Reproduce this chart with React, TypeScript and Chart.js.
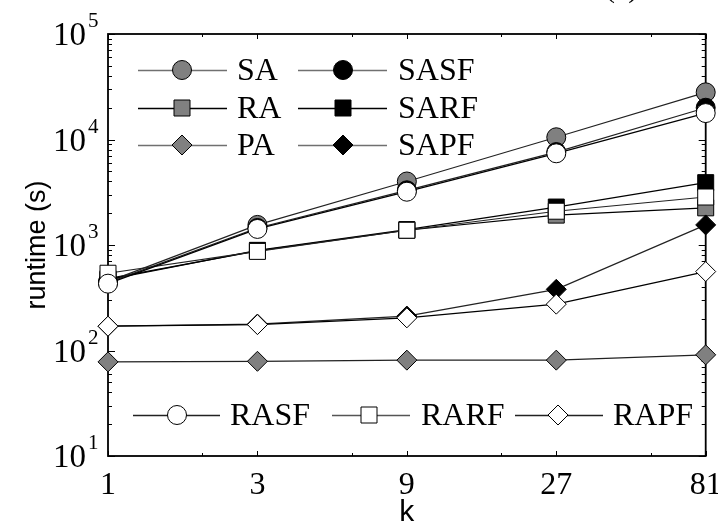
import React, { useEffect, useRef } from "react";
import { Chart, registerables } from "chart.js";
Chart.register(...registerables);

// ---- data ----
const K = [1, 3, 9, 27, 81];
const SA = [450, 1550, 4000, 10500, 28000];
const SASF = [440, 1450, 3300, 7600, 20000];
const RASF = [430, 1420, 3200, 7400, 17800];
const RA = [480, 880, 1380, 1920, 2250];
const SARF = [470, 890, 1400, 2290, 3900];
const RARF = [540, 870, 1380, 2090, 2850];
const PA = [78, 79, 81, 81, 91];
const SAPF = [170, 178, 212, 380, 1550];
const RAPF = [170, 176, 204, 275, 560];

const xTickValues = [1, 3, 9, 27, 81];
const xTickLabels = ["1", "3", "9", "27", "81"];
const xMinorValues = [2, 6, 18, 54];
const yExponents = [1, 2, 3, 4, 5];

const SERIF = "'Liberation Serif', 'Times New Roman', serif";
const SANS = "'Liberation Sans', Arial, sans-serif";

type Shape = "circle" | "rect" | "rectRot";

function drawMarker(ctx: CanvasRenderingContext2D, shape: Shape, x: number, y: number, fill: string) {
  ctx.save();
  ctx.fillStyle = fill;
  ctx.strokeStyle = "#000";
  ctx.lineWidth = 1;
  ctx.beginPath();
  if (shape === "circle") {
    ctx.arc(x, y, 9.5, 0, Math.PI * 2);
  } else if (shape === "rect") {
    ctx.rect(x - 8, y - 8, 16, 16);
  } else {
    const r = 10;
    ctx.moveTo(x, y - r);
    ctx.lineTo(x + r, y);
    ctx.lineTo(x, y + r);
    ctx.lineTo(x - r, y);
    ctx.closePath();
  }
  ctx.fill();
  ctx.stroke();
  ctx.restore();
}

export default function App() {
  const ref = useRef<HTMLCanvasElement>(null);

  useEffect(() => {
    document.body.style.margin = "0";
    const canvas = ref.current;
    if (!canvas) return;

    const radius: Record<Shape, number> = { circle: 9.5, rect: 11.3, rectRot: 10 };
    const mk = (label: string, vals: number[], shape: Shape, line: string, legendLine: string, fill: string, order: number) => ({
      label,
      data: K.map((k, i) => ({ x: k, y: vals[i] })),
      borderColor: line,
      legendLine,
      borderWidth: 1.2,
      pointStyle: shape,
      pointRadius: radius[shape],
      pointBackgroundColor: fill,
      pointBorderColor: "#000",
      pointBorderWidth: 1,
      order,
      clip: false as any,
      fill: false,
      tension: 0,
    });

    const datasets = [
      mk("SA", SA, "circle", "#222", "#707070", "#808080", 3),
      mk("RA", RA, "rect", "#000", "#000", "#808080", 3),
      mk("PA", PA, "rectRot", "#222", "#707070", "#808080", 3),
      mk("SASF", SASF, "circle", "#222", "#707070", "#000", 2),
      mk("SARF", SARF, "rect", "#000", "#000", "#000", 2),
      mk("SAPF", SAPF, "rectRot", "#222", "#707070", "#000", 2),
      mk("RASF", RASF, "circle", "#000", "#222", "#fff", 1),
      mk("RARF", RARF, "rect", "#222", "#555", "#fff", 1),
      mk("RAPF", RAPF, "rectRot", "#000", "#222", "#fff", 1),
    ];

    const legendItems = [
      { i: 0, x1: 138, x2: 227, mx: 182, tx: 237, y: 70 },
      { i: 1, x1: 138, x2: 227, mx: 182, tx: 237, y: 108 },
      { i: 2, x1: 138, x2: 227, mx: 182, tx: 237, y: 145 },
      { i: 3, x1: 298, x2: 387, mx: 343, tx: 398, y: 70 },
      { i: 4, x1: 298, x2: 387, mx: 343, tx: 398, y: 108 },
      { i: 5, x1: 298, x2: 387, mx: 343, tx: 398, y: 145 },
      { i: 6, x1: 133, x2: 220, mx: 177, tx: 230, y: 415 },
      { i: 7, x1: 332, x2: 410, mx: 369, tx: 421, y: 415 },
      { i: 8, x1: 515, x2: 603, mx: 558, tx: 613, y: 415 },
    ];

    const framePlugin = {
      id: "frame",
      beforeDatasetsDraw(chart: any) {
        const { ctx, chartArea: a, scales } = chart;
        const xs = scales.x, ys = scales.y;
        ctx.save();
        ctx.strokeStyle = "#000";
        ctx.lineWidth = 1.8;
        ctx.strokeRect(a.left, a.top, a.right - a.left, a.bottom - a.top);
        ctx.lineWidth = 1;
        ctx.beginPath();
        const xt = (v: number, len: number) => {
          const px = Math.round(xs.getPixelForValue(v)) + 0.5;
          ctx.moveTo(px, a.bottom);
          ctx.lineTo(px, a.bottom - len);
          ctx.moveTo(px, a.top);
          ctx.lineTo(px, a.top + len);
        };
        xTickValues.forEach((v) => xt(v, 5));
        xMinorValues.forEach((v) => xt(v, 3));
        const yt = (v: number, len: number) => {
          const py = Math.round(ys.getPixelForValue(v)) + 0.5;
          ctx.moveTo(a.left, py);
          ctx.lineTo(a.left + len, py);
          ctx.moveTo(a.right, py);
          ctx.lineTo(a.right - len, py);
        };
        yExponents.forEach((e, idx) => {
          const base = Math.pow(10, e);
          yt(base, 7);
          if (idx < yExponents.length - 1) {
            for (let m = 2; m <= 9; m++) yt(base * m, 4);
          }
        });
        ctx.stroke();
        ctx.restore();
      },
      afterDraw(chart: any) {
        const { ctx, chartArea: a, scales } = chart;
        const xs = scales.x, ys = scales.y;
        ctx.save();
        ctx.fillStyle = "#000";
        ctx.font = `32px ${SERIF}`;
        ctx.textAlign = "center";
        ctx.textBaseline = "alphabetic";
        xTickValues.forEach((v, i) => {
          ctx.fillText(xTickLabels[i], xs.getPixelForValue(v), 494);
        });
        yExponents.forEach((e) => {
          const py = ys.getPixelForValue(Math.pow(10, e));
          ctx.font = `33px ${SERIF}`;
          ctx.textAlign = "right";
          ctx.fillText("10", 86, py + 11);
          ctx.font = `21px ${SERIF}`;
          ctx.textAlign = "left";
          ctx.fillText(String(e), 88, py - 7);
        });
        ctx.font = `30px ${SANS}`;
        ctx.textAlign = "center";
        ctx.textBaseline = "middle";
        ctx.fillText("k", (a.left + a.right) / 2, 513);
        ctx.save();
        ctx.font = `27px ${SANS}`;
        ctx.translate(38, (a.top + a.bottom) / 2);
        ctx.rotate(-Math.PI / 2);
        ctx.fillText("runtime (s)", 0, 0);
        ctx.restore();
        ctx.font = `30px ${SERIF}`;
        ctx.textAlign = "left";
        ctx.textBaseline = "alphabetic";
        ctx.fillText("(a)", 605, -3);
        legendItems.forEach((L) => {
          const d: any = chart.data.datasets[L.i];
          ctx.strokeStyle = d.legendLine;
          ctx.lineWidth = 1.5;
          ctx.beginPath();
          ctx.moveTo(L.x1, L.y + 0.5);
          ctx.lineTo(L.x2, L.y + 0.5);
          ctx.stroke();
          drawMarker(ctx, d.pointStyle, L.mx, L.y, d.pointBackgroundColor);
          ctx.fillStyle = "#000";
          ctx.font = `32px ${SERIF}`;
          ctx.textAlign = "left";
          ctx.textBaseline = "middle";
          ctx.fillText(d.label, L.tx, L.y + 2);
        });
        ctx.restore();
      },
    };

    const chart = new Chart(canvas, {
      type: "line",
      data: { datasets: datasets as any },
      options: {
        responsive: false,
        animation: false,
        layout: { padding: { top: 34, right: 7, left: 0, bottom: 0 } },
        plugins: { legend: { display: false }, tooltip: { enabled: false } },
        scales: {
          x: {
            type: "logarithmic",
            min: 1,
            max: 81,
            grid: { display: false },
            border: { display: false },
            ticks: { display: false },
            afterFit: (s: any) => { s.height = 74; },
          },
          y: {
            type: "logarithmic",
            min: 10,
            max: 100000,
            grid: { display: false },
            border: { display: false },
            ticks: { display: false },
            afterFit: (s: any) => { s.width = 108; },
          },
        },
      } as any,
      plugins: [framePlugin],
    });
    return () => chart.destroy();
  }, []);

  return (
    <div style={{ position: "absolute", left: 0, top: 0, width: 718, height: 530 }}>
      <canvas ref={ref} width={718} height={530} style={{ display: "block", width: 718, height: 530 }} />
    </div>
  );
}
